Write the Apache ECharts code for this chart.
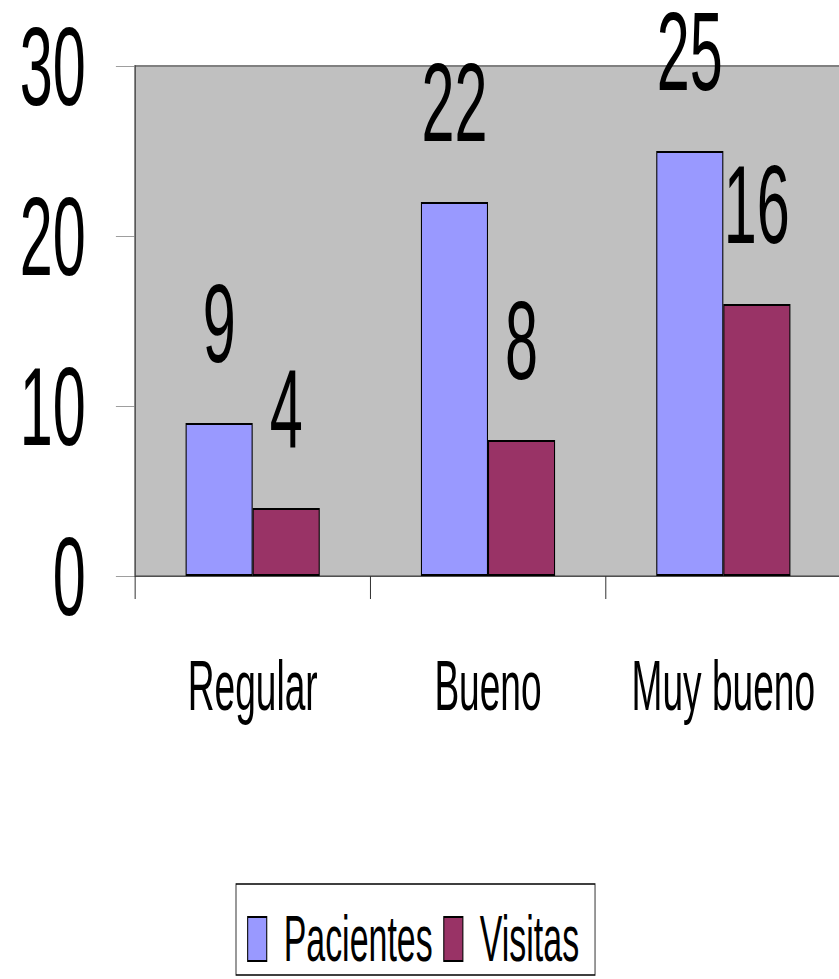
<!DOCTYPE html>
<html>
<head>
<meta charset="utf-8">
<script src="https://cdn.jsdelivr.net/npm/echarts@6/dist/echarts.min.js"></script>
<style>
html, body { margin: 0; padding: 0; overflow: hidden; background: #fff; }
#chart { width: 1604px; height: 979px; transform: scaleX(0.53); transform-origin: 0 0; }
</style>
</head>
<body>
<div id="chart"></div>
<script>
// data
var categories = ['Regular', 'Bueno', 'Muy bueno'];
var pacientes = [9, 22, 25];
var visitas = [4, 8, 16];
var yTicks = [0, 10, 20, 30];

// whole chart is squeezed horizontally (see css) to get the tall narrow lettering
var sx = 0.53;
var font = 'Liberation Sans';

var chart = echarts.init(document.getElementById('chart'), null, { renderer: 'svg' });
chart.setOption({
	animation: false,
	backgroundColor: '#fff',
	textStyle: { fontFamily: font },
	grid: {
		show: true,
		left: 135 / sx,
		right: 1604 - 841 / sx,
		top: 66,
		bottom: 403,
		backgroundColor: '#c0c0c0',
		borderColor: '#808080',
		borderWidth: 2
	},
	legend: {
		left: 236 / sx,
		top: 884,
		orient: 'horizontal',
		padding: [23, 30, 4, 21],
		itemGap: 20,
		itemWidth: 36,
		itemHeight: 44,
		borderColor: '#000',
		borderWidth: 1.5,
		icon: 'rect',
		itemStyle: { borderColor: '#000', borderWidth: 2 },
		textStyle: { fontSize: 64, color: '#000', fontFamily: font, padding: [0, 0, 0, 27] },
		data: ['Pacientes', 'Visitas']
	},
	xAxis: {
		type: 'category',
		data: categories,
		axisLine: { lineStyle: { color: '#404040', width: 1 } },
		axisTick: { show: true, interval: 0, length: 23, lineStyle: { color: '#333', width: 1.9 } },
		axisLabel: { interval: 0, hideOverlap: false, fontSize: 70, color: '#000', margin: 75, fontFamily: font }
	},
	yAxis: {
		type: 'value',
		min: yTicks[0],
		max: yTicks[yTicks.length - 1],
		interval: 10,
		axisLine: { show: true, lineStyle: { color: '#333', width: 1.9 } },
		axisTick: { show: true, length: 36, lineStyle: { color: '#808080', width: 1 } },
		axisLabel: { fontSize: 112, color: '#000', margin: 93, fontFamily: font },
		splitLine: { show: false }
	},
	series: [
		{
			name: 'Pacientes',
			type: 'bar',
			data: pacientes,
			barGap: 0,
			barCategoryGap: '43%',
			itemStyle: { color: '#9999ff', borderColor: '#000', borderWidth: 2 },
			label: { show: true, position: 'top', distance: 60, fontSize: 112, lineHeight: 80, color: '#000', fontFamily: font }
		},
		{
			name: 'Visitas',
			type: 'bar',
			data: visitas,
			itemStyle: { color: '#993366', borderColor: '#000', borderWidth: 2 },
			label: { show: true, position: 'top', distance: 60, fontSize: 112, lineHeight: 80, color: '#000', fontFamily: font }
		}
	]
});
</script>
</body>
</html>
